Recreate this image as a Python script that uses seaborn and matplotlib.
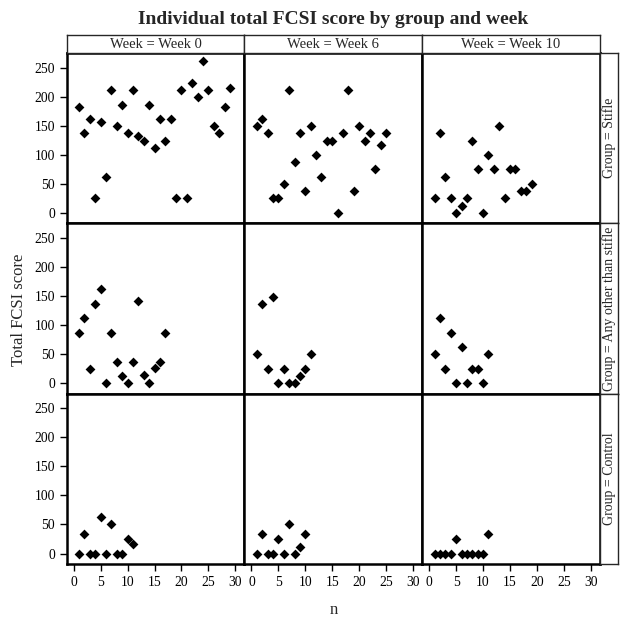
import matplotlib
matplotlib.use("Agg")
import matplotlib.pyplot as plt
import numpy as np
import pandas as pd
import seaborn as sns

# facet labels
weeks = ["Week 0", "Week 6", "Week 10"]
groups = ["Stifle", "Any other than stifle", "Control"]

# scores per animal (n = 1..len)
stifleWeek0 = [182, 137, 162, 25, 156, 62, 211, 149, 186, 137, 211, 132, 124, 186, 111,
               162, 124, 162, 25, 211, 25, 224, 199, 261, 211, 149, 137, 182, 215]
stifleWeek6 = [149, 162, 137, 25, 25, 50, 211, 87, 137, 37, 149, 99, 62, 124, 124,
               0, 137, 211, 37, 149, 124, 137, 75, 116, 137]
stifleWeek10 = [25, 137, 62, 25, 0, 12, 25, 124, 75, 0, 99, 75, 149, 25, 75, 75, 37, 37, 50]
otherWeek0 = [86, 112, 25, 137, 162, 0, 86, 37, 12, 0, 37, 142, 14, 0, 27, 37, 86]
otherWeek6 = [50, 137, 25, 149, 0, 25, 0, 0, 12, 25, 50]
otherWeek10 = [50, 112, 25, 87, 0, 62, 0, 25, 25, 0, 50]
controlWeek0 = [0, 33, 0, 0, 62, 0, 50, 0, 0, 25, 17]
controlWeek6 = [0, 33, 0, 0, 25, 0, 50, 0, 12, 33]
controlWeek10 = [0, 0, 0, 0, 25, 0, 0, 0, 0, 0, 33]

yTicks = [0, 50, 100, 150, 200, 250]
xTicks = [0, 5, 10, 15, 20, 25, 30]

series = {
    ("Stifle", "Week 0"): stifleWeek0,
    ("Stifle", "Week 6"): stifleWeek6,
    ("Stifle", "Week 10"): stifleWeek10,
    ("Any other than stifle", "Week 0"): otherWeek0,
    ("Any other than stifle", "Week 6"): otherWeek6,
    ("Any other than stifle", "Week 10"): otherWeek10,
    ("Control", "Week 0"): controlWeek0,
    ("Control", "Week 6"): controlWeek6,
    ("Control", "Week 10"): controlWeek10,
}

rows = []
for (grp, wk), vals in series.items():
    for i, v in enumerate(vals):
        rows.append({"Group": grp, "Week": wk, "n": i + 1, "score": v})
df = pd.DataFrame(rows)

sns.set_style("ticks")
plt.rcParams["font.family"] = ["Liberation Serif", "DejaVu Serif"]

W = 629.0
left, right = 66.7 / W, 600 / W
top, bottom = 1 - 53 / W, 1 - 564 / W
hdr = 18 / W

fig = plt.figure(figsize=(6.29, 6.29), dpi=100)
axes = fig.subplots(3, 3, sharex=True, sharey=True,
                    gridspec_kw=dict(left=left, right=right, top=top, bottom=bottom,
                                     wspace=0, hspace=0))

for r, grp in enumerate(groups):
    for c, wk in enumerate(weeks):
        ax = axes[r, c]
        sub = df[(df["Group"] == grp) & (df["Week"] == wk)]
        sns.scatterplot(data=sub, x="n", y="score", marker="D", color="black",
                        s=25, linewidth=0, ax=ax)
        ax.set_xlim(-1.3, 31.7)
        ax.set_ylim(-18, 275)
        ax.set_xlabel("")
        ax.set_ylabel("")
        for sp in ax.spines.values():
            sp.set_visible(True)
            sp.set_linewidth(1.8)
            sp.set_color("black")
        ax.tick_params(direction="out", length=5, width=1, labelsize=9.8, colors="black",
                       left=(c == 0), bottom=(r == 2), labelleft=(c == 0), labelbottom=(r == 2))
ax0 = axes[0, 0]
ax0.set_yticks(yTicks)
ax0.set_xticks(xTicks)

colW = (right - left) / 3
rowH = (top - bottom) / 3
for c, wk in enumerate(weeks):
    hax = fig.add_axes([left + c * colW, top, colW, hdr])
    hax.set_xticks([])
    hax.set_yticks([])
    for sp in hax.spines.values():
        sp.set_linewidth(1.0)
    hax.text(0.5, 0.5, f"Week = {wk}", ha="center", va="center", fontsize=10.5)

for r, grp in enumerate(groups):
    sax = fig.add_axes([right, top - (r + 1) * rowH, hdr, rowH])
    sax.set_xticks([])
    sax.set_yticks([])
    for sp in sax.spines.values():
        sp.set_linewidth(1.0)
    sax.text(0.5, 0.5, f"Group = {grp}", ha="center", va="center", rotation=90, fontsize=10)

fig.text((left + right) / 2, 1 - 20 / W, "Individual total FCSI score by group and week",
         ha="center", va="center", fontsize=14, fontweight="bold")
fig.text(19 / W, 1 - 310 / W, "Total FCSI score", ha="center", va="center", rotation=90, fontsize=12)
fig.text((left + right) / 2, 1 - 610 / W, "n", ha="center", va="center", fontsize=12)

fig.savefig("out.png", dpi=100, facecolor="white")
